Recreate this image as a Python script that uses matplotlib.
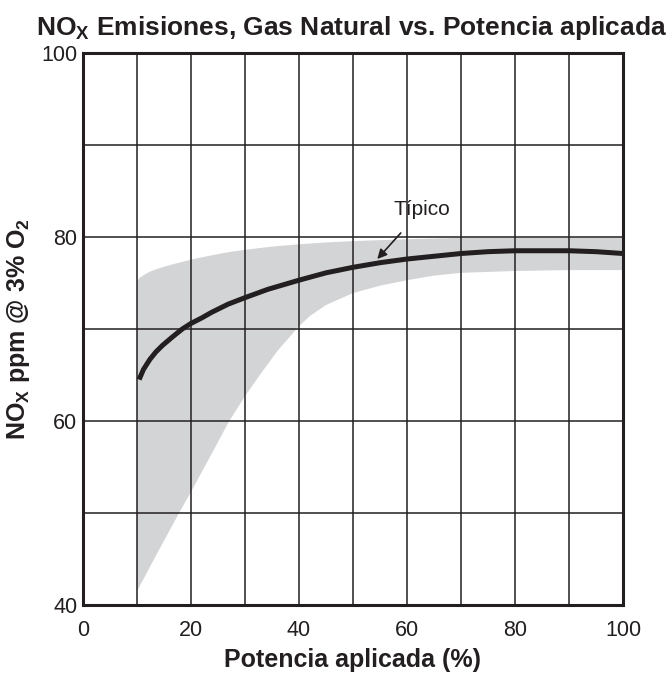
import numpy as np
import matplotlib
matplotlib.use('Agg')
import matplotlib.pyplot as plt

plt.rcParams['font.family'] = ['Liberation Sans', 'DejaVu Sans']
plt.rcParams['mathtext.fontset'] = 'custom'
plt.rcParams['mathtext.rm'] = 'Liberation Sans'
plt.rcParams['mathtext.bf'] = 'Liberation Sans:bold'

# typical curve
curve_x = [10.4, 11.2, 12.4, 13.5, 14.7, 16.5, 18.4, 20, 22, 23.8, 26.9, 30, 34.2, 40,
           45, 50, 55, 60, 65, 70, 75, 80, 90, 95, 100]
curve_y = [64.5, 65.6, 66.7, 67.5, 68.2, 69.1, 70.0, 70.6, 71.2, 71.8, 72.7, 73.4, 74.3, 75.3,
           76.1, 76.7, 77.2, 77.6, 77.9, 78.2, 78.4, 78.5, 78.5, 78.4, 78.2]

# shaded range, upper and lower edges
hi_x = [10, 10.4, 11.1, 12.3, 13.6, 15.5, 17.8, 20.5, 23.8, 27, 30, 35, 40, 45, 50, 60, 70, 100]
hi_y = [75.1, 75.5, 75.8, 76.2, 76.5, 76.85, 77.2, 77.6, 78.0, 78.35, 78.6, 78.95, 79.2, 79.4,
        79.55, 79.75, 79.9, 79.9]
lo_x = [10, 14, 17.8, 20, 23.8, 26.9, 30, 33, 36, 40, 42, 45, 50, 55, 60, 65, 70, 80, 90, 100]
lo_y = [41.5, 45.9, 50.0, 52.3, 56.4, 59.8, 62.7, 65.2, 67.6, 70.3, 71.4, 72.6, 73.9, 74.7,
        75.3, 75.8, 76.1, 76.3, 76.4, 76.4]

xticks = [0, 20, 40, 60, 80, 100]
yticks = [40, 60, 80, 100]

fig = plt.figure(figsize=(6.67, 6.77), dpi=100)
ax = fig.add_axes([0.1244, 0.1064, 0.8096, 0.8154])

band_x = np.array(hi_x + lo_x[::-1])
band_y = np.array(hi_y + lo_y[::-1])
ax.fill(band_x, band_y, color='#d3d4d6', lw=0, zorder=1)
ax.plot(curve_x, curve_y, color='#231f20', lw=3.6, solid_capstyle='butt',
        solid_joinstyle='round', zorder=3)

ax.set_xlim(0, 100)
ax.set_ylim(40, 100)
ax.set_xticks(xticks)
ax.set_yticks(yticks)
ax.set_xticks(np.arange(0, 101, 10), minor=True)
ax.set_yticks(np.arange(40, 101, 10), minor=True)
ax.grid(True, which='both', color='#231f20', lw=1.1, zorder=2)
ax.set_axisbelow(False)
ax.tick_params(which='both', length=0, labelsize=15.5, labelcolor='#231f20')
ax.tick_params(axis='x', pad=11)
ax.tick_params(axis='y', pad=4)
for s in ax.spines.values():
    s.set_linewidth(2.2)
    s.set_color('#231f20')
    s.set_zorder(5)

ax.set_xlabel('Potencia aplicada (%)', fontsize=18, fontweight='bold', color='#231f20', labelpad=5)
ax.set_ylabel(r'NO$_\mathbf{X}$ ppm @ 3% O$_\mathbf{2}$', fontsize=18, fontweight='bold',
              color='#231f20', labelpad=7)
fig.text(0.527, 0.959, r'NO$_\mathbf{X}$ Emisiones, Gas Natural vs. Potencia aplicada',
         ha='center', va='center', fontsize=19, fontweight='bold', color='#231f20',
         family=['Liberation Sans Narrow', 'Liberation Sans', 'DejaVu Sans'])

ax.annotate('Típico', xy=(54.5, 77.6), xytext=(62.8, 83.0), ha='center', va='center',
            fontsize=15, color='#231f20',
            arrowprops=dict(arrowstyle='-|>', color='#231f20', lw=1.2, mutation_scale=14,
                            shrinkA=11, shrinkB=0))

fig.savefig('out.png', dpi=100)
